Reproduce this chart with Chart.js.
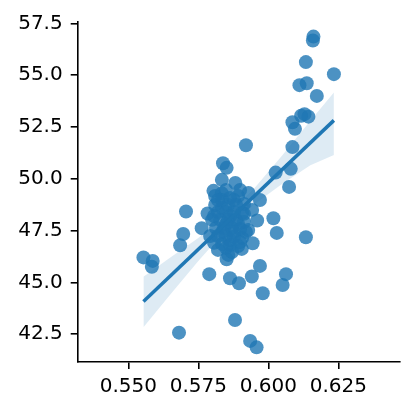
<!DOCTYPE html>
<html>
<head>
<meta charset="utf-8">
<script src="https://cdn.jsdelivr.net/npm/chart.js@4"></script>
<style>
  html, body { margin: 0; padding: 0; background: #fff; }
  canvas { display: block; }
</style>
</head>
<body>
<canvas id="c" width="415" height="414"></canvas>
<script>
// Scatter data (x, y)
const xs = [
  0.6161, 0.6159, 0.6134, 0.6234, 0.6111, 0.6137, 0.6173, 0.6129, 0.6143, 0.6117,
  0.6086, 0.6095, 0.5920, 0.6086, 0.6026, 0.6080, 0.6074, 0.5970, 0.5942, 0.6018,
  0.5960, 0.6030, 0.6134, 0.5944, 0.5970, 0.5941, 0.6063, 0.6051, 0.5980, 0.5895,
  0.5863, 0.5789, 0.5851, 0.5905, 0.5881, 0.5681, 0.5935, 0.5958, 0.5554, 0.5587,
  0.5584, 0.5696, 0.5685, 0.5762, 0.5706, 0.5783, 0.5838, 0.5851, 0.5834, 0.5882,
  0.5804, 0.5810, 0.5929, 0.5857, 0.5834,
  0.5810, 0.5835, 0.5863, 0.5892, 0.5856, 0.5885, 0.5913, 0.5820, 0.5849, 0.5877,
  0.5906, 0.5799, 0.5828, 0.5856, 0.5885, 0.5913, 0.5813, 0.5842, 0.5870, 0.5899,
  0.5928, 0.5792, 0.5820, 0.5849, 0.5877, 0.5906, 0.5835, 0.5863, 0.5892, 0.5806,
  0.5870, 0.5920, 0.5849, 0.5899, 0.5820,
  0.5835, 0.5863, 0.5892, 0.5849, 0.5806, 0.5877, 0.5835, 0.5913, 0.5863, 0.5899,
  0.5820, 0.5877, 0.5849
];
const ys = [
  56.86, 56.67, 55.63, 55.05, 54.52, 54.61, 54.00, 53.12, 53.00, 53.04,
  52.73, 52.41, 51.62, 51.53, 50.30, 50.48, 49.61, 48.98, 48.50, 48.10,
  47.99, 47.39, 47.18, 46.89, 45.80, 45.29, 45.40, 44.88, 44.48, 44.96,
  45.20, 45.40, 46.12, 46.62, 43.19, 42.58, 42.18, 41.87, 46.21, 46.04,
  45.76, 47.34, 46.79, 47.62, 48.42, 48.33, 50.75, 50.53, 49.95, 49.80,
  49.42, 49.17, 49.32, 46.33, 49.30,
  48.74, 48.98, 49.08, 49.17, 48.74, 48.74, 48.79, 48.40, 48.40, 48.40,
  48.35, 48.02, 48.02, 48.02, 48.02, 47.92, 47.63, 47.63, 47.63, 47.58,
  47.53, 47.24, 47.24, 47.24, 47.20, 47.15, 46.86, 46.81, 46.76, 46.91,
  46.47, 47.44, 49.46, 49.46, 46.57,
  48.60, 48.21, 47.82, 47.82, 48.21, 47.44, 47.44, 48.31, 47.05, 46.95,
  48.98, 48.98, 46.67
];

// Regression line
const fitX = [0.5554, 0.6234];
const fitY = [44.08, 52.82];

// Confidence band
const ciX    = [0.5554, 0.565, 0.575, 0.585, 0.595, 0.605, 0.615, 0.6234];
const ciLow  = [42.84, 44.42, 46.03, 47.56, 48.77, 49.76, 50.65, 51.15];
const ciHigh = [45.28, 46.20, 47.15, 48.20, 49.55, 51.14, 52.80, 54.16];

// Axes
const xTicks = [0.550, 0.575, 0.600, 0.625];
const xTickLabels = ['0.550', '0.575', '0.600', '0.625'];
const yTicks = [42.5, 45.0, 47.5, 50.0, 52.5, 55.0, 57.5];
const yTickLabels = ['42.5', '45.0', '47.5', '50.0', '52.5', '55.0', '57.5'];
const xMin = 0.53193, xMax = 0.6470;
const yMin = 41.163, yMax = 57.58;

const BLUE = 'rgb(31,119,180)';
const zip = (a, b) => a.map((v, i) => ({ x: v, y: b[i] }));

const font = { family: 'DejaVu Sans', size: 20 };

new Chart(document.getElementById('c'), {
  type: 'scatter',
  data: {
    datasets: [
      {
        type: 'line',
        data: zip(fitX, fitY),
        borderColor: BLUE,
        borderWidth: 3.5,
        pointRadius: 0,
        fill: false,
        order: 0
      },
      {
        data: zip(xs, ys),
        backgroundColor: 'rgba(31,119,180,0.8)',
        borderWidth: 0,
        pointRadius: 7,
        order: 1
      },
      {
        type: 'line',
        data: zip(ciX, ciLow),
        borderWidth: 0,
        borderColor: 'rgba(0,0,0,0)',
        pointRadius: 0,
        fill: false,
        order: 2
      },
      {
        type: 'line',
        data: zip(ciX, ciHigh),
        borderWidth: 0,
        borderColor: 'rgba(0,0,0,0)',
        backgroundColor: 'rgba(31,119,180,0.15)',
        pointRadius: 0,
        fill: '-1',
        order: 2
      }
    ]
  },
  options: {
    responsive: false,
    animation: false,
    devicePixelRatio: 1,
    layout: { padding: { top: 21.7, right: 15, left: 0, bottom: 0 } },
    plugins: { legend: { display: false }, tooltip: { enabled: false } },
    scales: {
      x: {
        type: 'linear',
        min: xMin, max: xMax,
        afterBuildTicks: ax => { ax.ticks = xTicks.map(v => ({ value: v })); },
        afterFit: ax => { ax.height = 52; },
        grid: { display: true, drawOnChartArea: false, drawTicks: true, tickLength: 7, color: '#000', lineWidth: 1.6 },
        border: { display: true, color: '#000', width: 1.6 },
        ticks: {
          font, color: '#000', padding: 6, maxRotation: 0, autoSkip: false,
          callback: (v) => { const i = xTicks.findIndex(t => Math.abs(t - v) < 1e-9); return i >= 0 ? xTickLabels[i] : ''; }
        }
      },
      y: {
        type: 'linear',
        min: yMin, max: yMax,
        afterBuildTicks: ax => { ax.ticks = yTicks.map(v => ({ value: v })); },
        afterFit: ax => { ax.width = 77.7; },
        grid: { display: true, drawOnChartArea: false, drawTicks: true, tickLength: 7, color: '#000', lineWidth: 1.6 },
        border: { display: true, color: '#000', width: 1.6 },
        ticks: {
          font, color: '#000', padding: 8, autoSkip: false,
          callback: (v) => { const i = yTicks.findIndex(t => Math.abs(t - v) < 1e-9); return i >= 0 ? yTickLabels[i] : ''; }
        }
      }
    }
  }
});
</script>
</body>
</html>
